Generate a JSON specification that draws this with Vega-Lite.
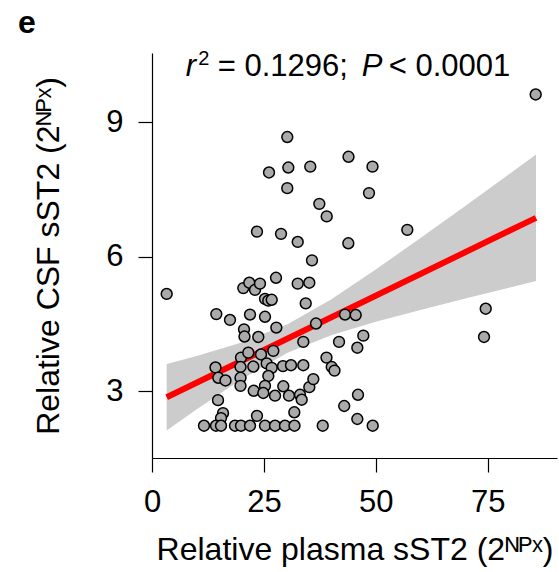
{
  "$schema": "https://vega.github.io/schema/vega-lite/v6.json",
  "width": 405,
  "height": 405,
  "autosize": {"type": "none"},
  "padding": {"left": 152, "top": 53, "right": 2, "bottom": 114},
  "background": "white",
  "config": {
    "view": {"stroke": null},
    "font": "Liberation Sans",
    "axis": {
      "grid": false,
      "domainColor": "#000000",
      "domainWidth": 1.2,
      "tickColor": "#000000",
      "tickWidth": 1.2,
      "tickSize": 14,
      "labelFont": "Liberation Sans",
      "labelFontSize": 31,
      "labelColor": "#000000",
      "labelPadding": 15,
      "labelFlush": false,
      "titleFont": "Liberation Sans",
      "titleFontSize": 32,
      "titleFontWeight": "normal",
      "titleColor": "#000000"
    }
  },
  "title": {
    "text": "e",
    "anchor": "start",
    "frame": "group",
    "fontSize": 32,
    "fontWeight": "bold",
    "font": "Liberation Sans",
    "color": "#000000",
    "dx": -134,
    "offset": 9
  },
  "datasets": {
    "band": [
      {"x": 3.28, "y": 2.126, "y2": 3.606},
      {"x": 10, "y": 2.597, "y2": 3.787},
      {"x": 20, "y": 3.268, "y2": 4.086},
      {"x": 30.3, "y": 3.856, "y2": 4.496},
      {"x": 40, "y": 4.247, "y2": 5.047},
      {"x": 50, "y": 4.549, "y2": 5.715},
      {"x": 60, "y": 4.814, "y2": 6.418},
      {"x": 70, "y": 5.068, "y2": 7.134},
      {"x": 85.81, "y": 5.458, "y2": 8.278}
    ],
    "fit": [
      {"x": 3.28, "y": 2.866},
      {"x": 85.81, "y": 6.868}
    ],
    "points": [
      {"x": 85.74, "y": 9.62}, {"x": 30.23, "y": 8.67}, {"x": 26.15, "y": 7.88}, {"x": 30.46, "y": 7.99},
      {"x": 35.37, "y": 8.01}, {"x": 43.91, "y": 8.23}, {"x": 49.27, "y": 8.01}, {"x": 30.23, "y": 7.53},
      {"x": 48.49, "y": 7.42}, {"x": 37.39, "y": 7.18}, {"x": 39.04, "y": 6.9}, {"x": 57.05, "y": 6.6},
      {"x": 23.46, "y": 6.56}, {"x": 28.83, "y": 6.51}, {"x": 32.56, "y": 6.33}, {"x": 43.87, "y": 6.3},
      {"x": 35.75, "y": 5.92}, {"x": 3.28, "y": 5.17}, {"x": 20.4, "y": 5.3}, {"x": 21.74, "y": 5.42},
      {"x": 23.02, "y": 5.26}, {"x": 24.13, "y": 5.4}, {"x": 27.71, "y": 5.53}, {"x": 32.56, "y": 5.4},
      {"x": 35.15, "y": 5.42}, {"x": 25.25, "y": 5.06}, {"x": 25.99, "y": 5.02}, {"x": 26.75, "y": 5.04},
      {"x": 34.35, "y": 4.96}, {"x": 14.37, "y": 4.72}, {"x": 17.43, "y": 4.59}, {"x": 21.9, "y": 4.71},
      {"x": 25.25, "y": 4.66}, {"x": 27.78, "y": 4.42}, {"x": 20.56, "y": 4.38}, {"x": 20.67, "y": 4.22},
      {"x": 23.75, "y": 4.21}, {"x": 36.65, "y": 4.51}, {"x": 33.81, "y": 4.1}, {"x": 43.13, "y": 4.71},
      {"x": 45.52, "y": 4.7}, {"x": 41.79, "y": 4.1}, {"x": 47.22, "y": 4.24}, {"x": 45.88, "y": 3.97},
      {"x": 74.57, "y": 4.84}, {"x": 74.19, "y": 4.21}, {"x": 14.19, "y": 3.53}, {"x": 14.82, "y": 3.3},
      {"x": 16.42, "y": 3.24}, {"x": 19.89, "y": 3.75}, {"x": 21.52, "y": 3.86}, {"x": 24.36, "y": 3.82},
      {"x": 27.11, "y": 3.9}, {"x": 19.78, "y": 3.54}, {"x": 19.78, "y": 3.3}, {"x": 19.78, "y": 3.12},
      {"x": 22.64, "y": 3.55}, {"x": 25.63, "y": 3.62}, {"x": 26.75, "y": 3.52}, {"x": 29.27, "y": 3.56},
      {"x": 31.06, "y": 3.58}, {"x": 33.81, "y": 3.58}, {"x": 38.99, "y": 3.75}, {"x": 40.16, "y": 3.54},
      {"x": 40.78, "y": 3.46}, {"x": 25.99, "y": 3.34}, {"x": 25.25, "y": 3.12}, {"x": 22.73, "y": 3.01},
      {"x": 24.87, "y": 2.96}, {"x": 27.49, "y": 2.9}, {"x": 29.34, "y": 3.11}, {"x": 30.61, "y": 2.9},
      {"x": 33.07, "y": 2.92}, {"x": 33.45, "y": 2.81}, {"x": 35.15, "y": 3.09}, {"x": 36.05, "y": 3.27},
      {"x": 46.03, "y": 2.92}, {"x": 42.95, "y": 2.67}, {"x": 45.88, "y": 2.38}, {"x": 14.75, "y": 2.8},
      {"x": 15.87, "y": 2.51}, {"x": 15.42, "y": 2.4}, {"x": 23.46, "y": 2.45}, {"x": 31.8, "y": 2.53},
      {"x": 11.62, "y": 2.23}, {"x": 14.3, "y": 2.23}, {"x": 15.42, "y": 2.23}, {"x": 18.55, "y": 2.23},
      {"x": 19.89, "y": 2.23}, {"x": 21.9, "y": 2.23}, {"x": 25.25, "y": 2.23}, {"x": 27.49, "y": 2.23},
      {"x": 29.72, "y": 2.23}, {"x": 31.84, "y": 2.23}, {"x": 38.15, "y": 2.23}, {"x": 49.32, "y": 2.23}
    ],
    "annot": [
      {"x": 7.55, "y": 10.03}
    ]
  },
  "encoding": {
    "x": {
      "field": "x",
      "type": "quantitative",
      "title": "Relative plasma sST2 (2ᴺᴾˣ)",
      "scale": {"domain": [0, 90.5], "nice": false, "zero": false},
      "axis": {"values": [0, 25, 50, 75], "titlePadding": 17}
    },
    "y": {
      "field": "y",
      "type": "quantitative",
      "title": "Relative CSF sST2 (2ᴺᴾˣ)",
      "scale": {"domain": [1.51, 10.545], "nice": false, "zero": false},
      "axis": {"values": [3, 6, 9], "titlePadding": 40}
    }
  },
  "layer": [
    {
      "data": {"name": "band"},
      "mark": {"type": "area", "color": "#cccccc", "opacity": 1},
      "encoding": {"y2": {"field": "y2"}}
    },
    {
      "data": {"name": "fit"},
      "mark": {"type": "line", "color": "#ff0000", "strokeWidth": 6},
      "encoding": {}
    },
    {
      "data": {"name": "points"},
      "mark": {"type": "point", "shape": "circle", "filled": true, "fill": "#aaaaaa", "stroke": "#000000", "strokeWidth": 1.5, "size": 118, "opacity": 1}
    },
    {
      "data": {"name": "annot"},
      "mark": {"type": "text", "text": "r", "fontStyle": "italic", "fontSize": 31, "align": "left", "baseline": "alphabetic", "color": "#000000", "font": "Liberation Sans"}
    },
    {
      "data": {"name": "annot"},
      "mark": {"type": "text", "text": "2", "fontSize": 20, "align": "left", "baseline": "alphabetic", "dx": 12.5, "dy": -11, "color": "#000000", "font": "Liberation Sans"}
    },
    {
      "data": {"name": "annot"},
      "mark": {"type": "text", "text": "= 0.1296;", "fontSize": 31, "align": "left", "baseline": "alphabetic", "dx": 32, "color": "#000000", "font": "Liberation Sans"}
    },
    {
      "data": {"name": "annot"},
      "mark": {"type": "text", "text": "P", "fontStyle": "italic", "fontSize": 31, "align": "left", "baseline": "alphabetic", "dx": 176, "color": "#000000", "font": "Liberation Sans"}
    },
    {
      "data": {"name": "annot"},
      "mark": {"type": "text", "text": "< 0.0001", "fontSize": 31, "align": "left", "baseline": "alphabetic", "dx": 203, "color": "#000000", "font": "Liberation Sans"}
    }
  ]
}
